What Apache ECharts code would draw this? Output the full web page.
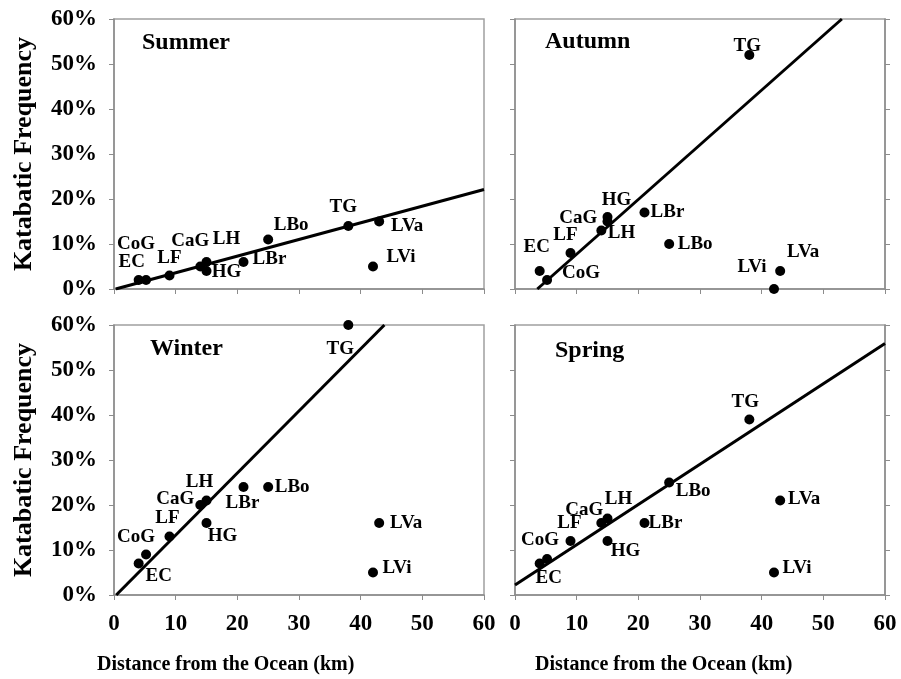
<!DOCTYPE html>
<html>
<head>
<meta charset="utf-8">
<script src="https://cdn.jsdelivr.net/npm/echarts@6/dist/echarts.min.js"></script>
<style>
  html, body { margin: 0; padding: 0; background: #fff; }
  #chart { width: 901px; height: 679px; }
</style>
</head>
<body>
<div id="chart"></div>
<script>
// ---- Data ----
const seasons = ['Summer', 'Autumn', 'Winter', 'Spring'];
const stations = ['EC', 'CoG', 'LF', 'CaG', 'LH', 'HG', 'LBr', 'LBo', 'TG', 'LVa', 'LVi'];
const distanceKm = [4, 5.2, 9, 14, 15, 15, 21, 25, 38, 43, 42];
const summerPct = [2, 2, 3, 5, 6, 4, 6, 11, 14, 15, 5];
const autumnPct = [4, 2, 8, 13, 15, 16, 17, 10, 52, 4, 0];
const winterPct = [7, 9, 13, 20, 21, 16, 24, 24, 60, 16, 5];
const springPct = [7, 8, 12, 16, 17, 12, 16, 25, 39, 21, 5];
const trendSlope = [0.37, 1.215, 1.38, 0.895];
const trendIntercept = [-0.1, -4.4, -0.5, 2.2];
const xTickInterval = 10;
const yTickInterval = 10;

// ---- Styling (label offsets relative to each dot, in px) ----
const labelOffsets = [
  [[-7,-18],[-10,-36],[0,-17],[-10,-25],[20,-23],[20,1],[26,-3],[23,-14],[-5,-19],[28,5],[28,-9]],
  [[-3,-24],[34,-7],[-5,-18],[-23,-12],[14,12],[9,-17],[23,0],[26,0],[-2,-9],[23,-19],[-22,-22]],
  [[20,13],[-10,-17],[-2,-18],[-25,-6],[-7,-18],[16,13],[-1,16],[24,0],[-8,24],[27,0],[24,-4]],
  [[9,15],[-7,-19],[-1,-18],[-17,-13],[11,-19],[18,10],[21,0],[24,9],[-4,-17],[24,-1],[23,-4]]
];
const seasonValues = [summerPct, autumnPct, winterPct, springPct];

const FONT = '"Liberation Serif", "Times New Roman", serif';
const grids = [
  { left: 114, top: 19, width: 370, height: 270 },
  { left: 515, top: 19, width: 370, height: 270 },
  { left: 114, top: 325, width: 370, height: 270 },
  { left: 515, top: 325, width: 370, height: 270 }
];
const titlePos = [[142, 31], [545, 30], [150, 337], [555, 339]];

const axisGray = '#8c8c8c';

const xAxes = grids.map((g, i) => ({
  type: 'value', gridIndex: i, min: 0, max: 60, interval: xTickInterval,
  axisLine: { show: true, lineStyle: { color: axisGray, width: 1.5 } },
  axisTick: { show: true, length: 5, lineStyle: { color: axisGray } },
  axisLabel: {
    show: i >= 2, margin: 18, color: '#000',
    fontFamily: FONT, fontWeight: 'bold', fontSize: 23
  },
  splitLine: { show: false }
}));

const yAxes = grids.map((g, i) => ({
  type: 'value', gridIndex: i, min: 0, max: 60, interval: yTickInterval,
  axisLine: { show: true, lineStyle: { color: axisGray, width: 1.5 } },
  axisTick: { show: true, length: 5, lineStyle: { color: axisGray } },
  axisLabel: {
    show: i % 2 === 0, margin: 17, color: '#000', formatter: '{value}%',
    fontFamily: FONT, fontWeight: 'bold', fontSize: 23
  },
  splitLine: { show: false },
  name: i % 2 === 0 ? 'Katabatic Frequency' : '',
  nameLocation: 'middle', nameRotate: 90, nameGap: 77,
  nameTextStyle: { fontFamily: FONT, fontWeight: 'bold', fontSize: 26, color: '#000' }
}));
// right-side tick axes for the right panels
[1, 3].forEach(i => {
  yAxes.push({
    type: 'value', gridIndex: i, position: 'right', min: 0, max: 60, interval: yTickInterval,
    axisLine: { show: true, lineStyle: { color: axisGray, width: 1.5 } },
    axisTick: { show: true, length: 5, lineStyle: { color: axisGray } },
    axisLabel: { show: false }, splitLine: { show: false }
  });
});

const series = [];
seasons.forEach((s, i) => {
  const m = trendSlope[i], b = trendIntercept[i];
  let x0 = Math.max(0, (0 - b) / m), x1 = Math.min(60, (60 - b) / m);
  series.push({
    type: 'line', xAxisIndex: i, yAxisIndex: i, silent: true,
    showSymbol: false, symbol: 'none', z: 1,
    lineStyle: { color: '#000', width: 3 },
    data: [[x0, m * x0 + b], [x1, m * x1 + b]]
  });
  series.push({
    type: 'scatter', xAxisIndex: i, yAxisIndex: i, z: 3,
    symbol: 'circle', symbolSize: 10,
    itemStyle: { color: '#000', opacity: 1 },
    data: distanceKm.map((d, j) => ({
      name: stations[j],
      value: [d, seasonValues[i][j]],
      label: { offset: labelOffsets[i][j] }
    })),
    label: {
      show: true, position: 'inside', formatter: '{b}', color: '#000',
      fontFamily: FONT, fontWeight: 'bold', fontSize: 19,
      align: 'center', verticalAlign: 'middle'
    }
  });
});

const titles = seasons.map((s, i) => ({
  text: s, left: titlePos[i][0], top: titlePos[i][1], padding: 0,
  textStyle: { fontFamily: FONT, fontWeight: 'bold', fontSize: 24, color: '#000' }
}));
titles.push({
  text: 'Distance from the Ocean (km)', left: 97, top: 655, padding: 0,
  textStyle: { fontFamily: FONT, fontWeight: 'bold', fontSize: 20, color: '#000' }
});
titles.push({
  text: 'Distance from the Ocean (km)', left: 535, top: 655, padding: 0,
  textStyle: { fontFamily: FONT, fontWeight: 'bold', fontSize: 20, color: '#000' }
});

const chart = echarts.init(document.getElementById('chart'), null, { renderer: 'canvas' });
chart.setOption({
  animation: false,
  backgroundColor: '#fff',
  title: titles,
  grid: grids.map(g => Object.assign({ show: true, borderColor: '#a0a0a0', borderWidth: 1.5, backgroundColor: 'transparent' }, g)),
  xAxis: xAxes,
  yAxis: yAxes,
  series: series
});
</script>
</body>
</html>
